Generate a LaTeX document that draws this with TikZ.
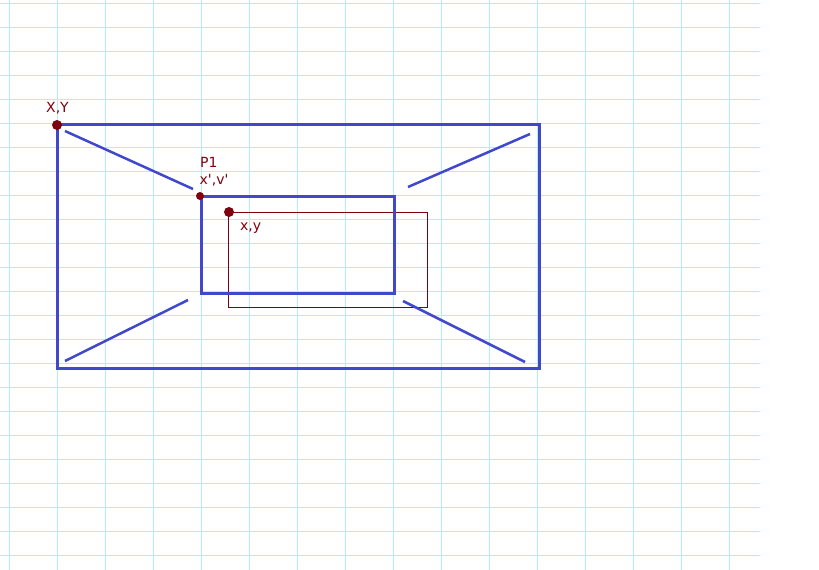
\documentclass[tikz,border=0pt]{standalone}
\usepackage{fontspec}
\setmainfont{DejaVu Sans}[Ligatures=TeXOff]
\usetikzlibrary{positioning}

\definecolor{gridcyan}{RGB}{175,240,240}
\definecolor{penblue}{RGB}{64,72,204}
\definecolor{pendark}{RGB}{128,0,16}

\begin{document}
\begin{tikzpicture}[
  x=1pt, y=-1pt,
  font=\fontsize{14}{16}\selectfont,
  gridline/.style={gridcyan, line width=1pt},
  frame/.style={draw=penblue, line width=3pt},
  ray/.style={penblue, line width=2.5pt},
  target/.style={draw=pendark, line width=1pt},
  dot/.style={circle, fill=pendark, inner sep=0pt},
  tag/.style={text=pendark, anchor=base west, inner sep=0pt},
]
  \useasboundingbox (0,0) rectangle (819,570);
  \fill[white] (0,0) rectangle (819,570);

  % squared paper
  \foreach \x in {0,...,15} \draw[gridline] (9.3+48*\x,0) -- (9.3+48*\x,570);
  \foreach \y in {0,...,23} \draw[gridline] (0,3.3+24*\y) -- (760,3.3+24*\y);

  % outer and inner rectangles
  \coordinate (o1) at (57,124);  \coordinate (o2) at (539,368);
  \coordinate (i1) at (201,196); \coordinate (i2) at (394,293);
  \coordinate (r1) at (228,212); \coordinate (r2) at (427,307);
  \draw[target] (r1) rectangle (r2);
  \draw[frame] (o1) rectangle (o2);
  \draw[frame] (i1) rectangle (i2);

  % perspective rays between the corners
  \coordinate (tl1) at (65,131);  \coordinate (tl2) at (193,189);
  \coordinate (tr1) at (408,187); \coordinate (tr2) at (530,134);
  \coordinate (bl1) at (188,300); \coordinate (bl2) at (65,361);
  \coordinate (br1) at (403,301); \coordinate (br2) at (525,362);
  \draw[ray] (tl1) -- (tl2);
  \draw[ray] (tr1) -- (tr2);
  \draw[ray] (bl1) -- (bl2);
  \draw[ray] (br1) -- (br2);

  % marked points
  \node[dot, minimum size=10pt] (pXY) at (57,125) {};
  \node[dot, minimum size=8pt] (pP1) at (200,196) {};
  \node[dot, minimum size=10pt] (pxy) at (229,212) {};

  \node[tag] (lXY) at (46,112.5) {X,Y};
  \node[tag] (lP1) at (200,167.3) {P1};
  \node[tag] (lxv) at (199.5,184.3) {x',v'};
  \node[tag] (lxy) at (240,230.7) {x,y};
\end{tikzpicture}
\end{document}
